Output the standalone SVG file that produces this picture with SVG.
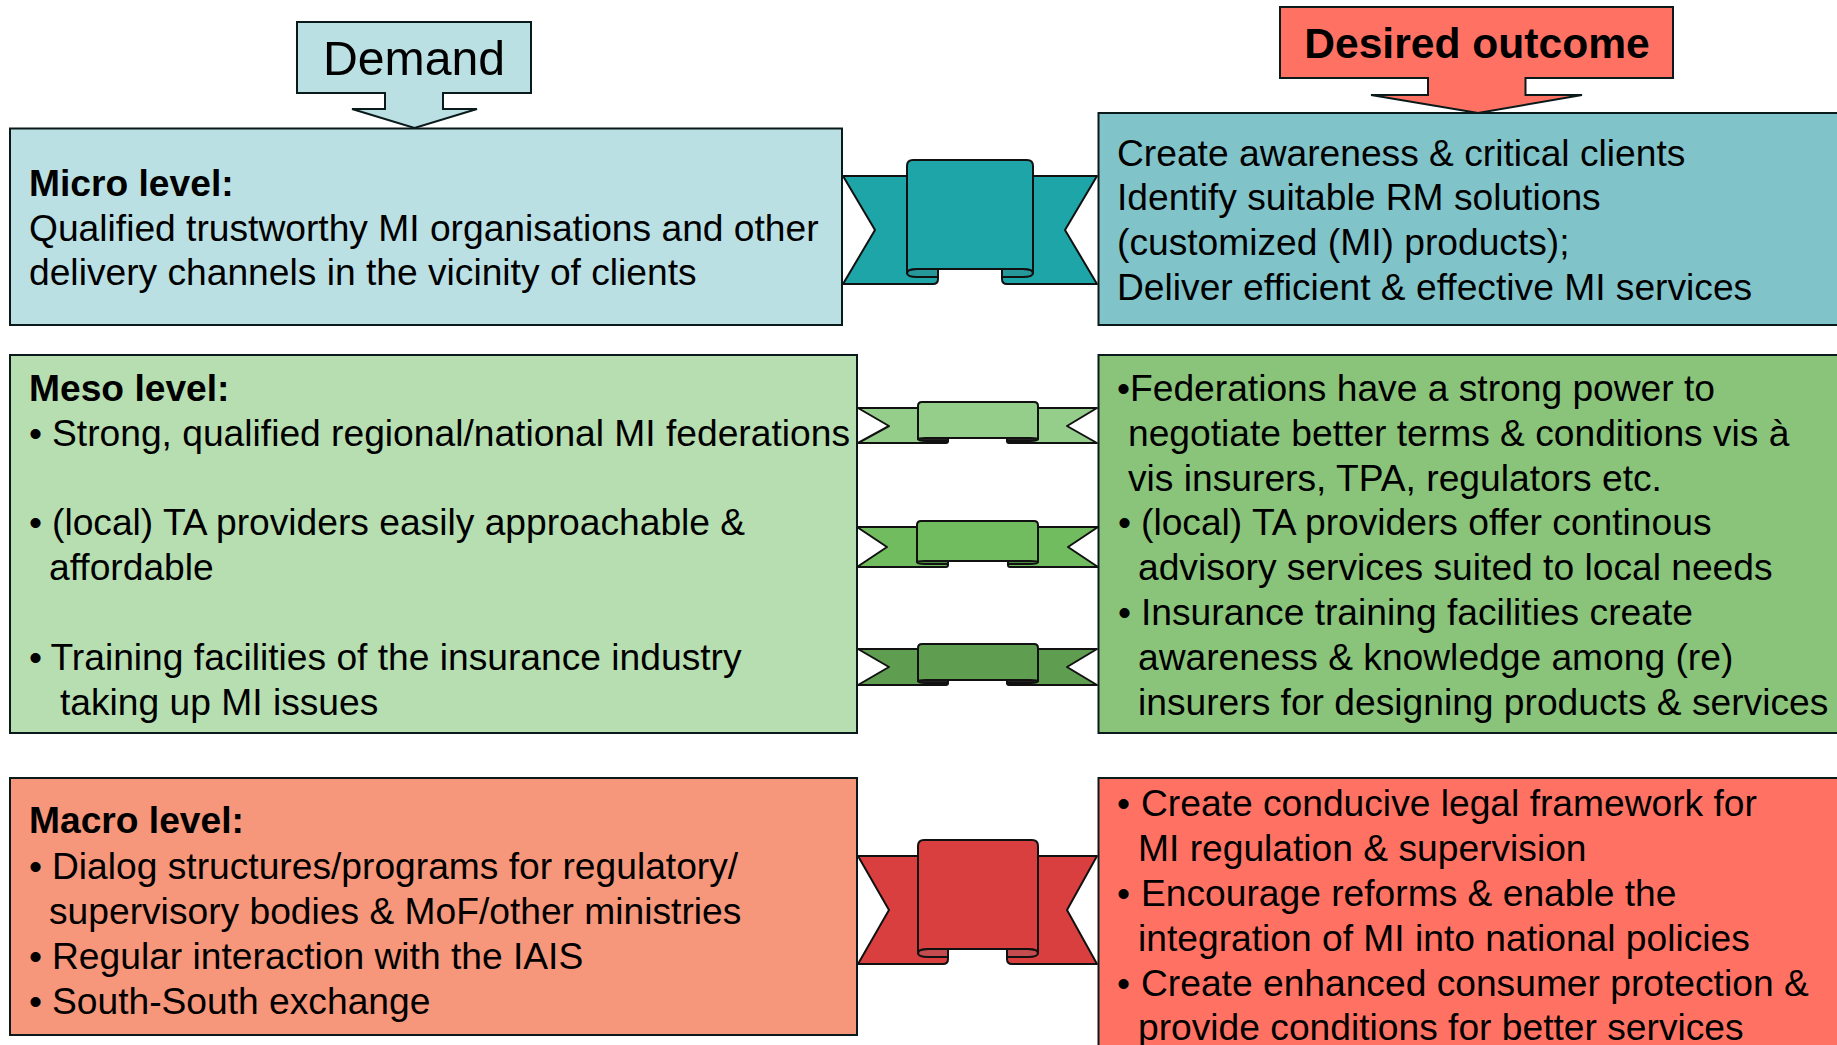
<svg xmlns="http://www.w3.org/2000/svg" width="1837" height="1045" viewBox="0 0 1837 1045">
<style>
.b{stroke:#0a1a1a;stroke-width:2}
.o{stroke:#111;stroke-width:2;stroke-linejoin:round}
text{font-family:"Liberation Sans",Arial,sans-serif;font-size:37.2px;fill:#000}
.h{font-weight:700}
</style>
<rect width="1837" height="1045" fill="#fff"/>
<g id="connectors">
<g id="ribbon-micro" class="o" fill="#1EA5A7">
<path d="M843 176H907V269H938V279Q938 284 933 284H843L875 230Z"/>
<path d="M1097 176H1033V269H1002V279Q1002 284 1007 284H1097L1065 230Z"/>
<path fill="#26989A" d="M907 273Q907 277 917 277H938V269H917Q907 269 907 273Z"/>
<path fill="#26989A" d="M1033 273Q1033 277 1023 277H1002V269H1023Q1033 269 1033 273Z"/>
<path d="M907 166Q907 160 913 160H1027Q1033 160 1033 166V273Q1033 269 1023 269H917Q907 269 907 273Z"/>
</g>
<g id="ribbon-meso-1" class="o" fill="#94CE8A">
<path d="M858 408H918V438H948V441Q948 443 946 443H858L889 426Z"/>
<path d="M1097 408H1038V438H1007V441Q1007 443 1009 443H1097L1067 426Z"/>
<path fill="#222" d="M918 439Q918 441 926 441H948V438H918Z"/>
<path fill="#222" d="M1038 439Q1038 441 1030 441H1007V438H1038Z"/>
<path d="M918 406Q918 402 922 402H1034Q1038 402 1038 406V439Q1038 438 1030 438H926Q918 438 918 439Z"/>
</g>
<g id="ribbon-meso-2" class="o" fill="#70BC5E">
<path d="M857 527H917V561H948V565Q948 567 946 567H857L887 547Z"/>
<path d="M1098 527H1038V561H1008V565Q1008 567 1010 567H1098L1068 547Z"/>
<path fill="#4E8C42" d="M917 562Q917 564 925 564H948V561H917Z"/>
<path fill="#4E8C42" d="M1038 562Q1038 564 1030 564H1008V561H1038Z"/>
<path d="M917 525Q917 521 921 521H1034Q1038 521 1038 525V562Q1038 561 1030 561H925Q917 561 917 562Z"/>
</g>
<g id="ribbon-meso-3" class="o" fill="#5F9E50">
<path d="M858 649H918V680H948V683Q948 685 946 685H858L889 667Z"/>
<path d="M1097 649H1038V680H1007V683Q1007 685 1009 685H1097L1067 667Z"/>
<path fill="#222" d="M918 681Q918 683 926 683H948V680H918Z"/>
<path fill="#222" d="M1038 681Q1038 683 1030 683H1007V680H1038Z"/>
<path d="M918 648Q918 644 922 644H1034Q1038 644 1038 648V681Q1038 680 1030 680H926Q918 680 918 681Z"/>
</g>
<g id="ribbon-macro" class="o" fill="#DA3F40">
<path d="M858 856H918V949H948V959Q948 964 943 964H858L889 910Z"/>
<path d="M1097 856H1038V949H1007V959Q1007 964 1012 964H1097L1067 910Z"/>
<path fill="#C24C4E" d="M918 953Q918 957 928 957H948V949H928Q918 949 918 953Z"/>
<path fill="#C24C4E" d="M1038 953Q1038 957 1028 957H1007V949H1028Q1038 949 1038 953Z"/>
<path d="M918 846Q918 840 924 840H1032Q1038 840 1038 846V953Q1038 949 1028 949H928Q918 949 918 953Z"/>
</g>
</g>
<g id="demand"><path class="b" fill="#BAE0E4" d="M297 22H531V93H443V109H477L414.500 128L352 109H385V93H297Z"/><text x="414" y="75" text-anchor="middle" style="font-size:48.200px">Demand</text></g>
<g id="desired-outcome"><path class="b" fill="#FF7263" d="M1280 7H1673V78H1525.500V95H1582L1478 113L1371 95H1428V78H1280Z"/><text x="1477" y="58" text-anchor="middle" class="h" style="font-size:42.600px">Desired outcome</text></g>
<g id="micro-demand"><rect class="b" x="10" y="128.500" width="832" height="196.500" fill="#BAE0E4"/>
<text><tspan x="29" y="196" class="h">Micro level:</tspan><tspan x="29" y="241">Qualified trustworthy MI organisations and other</tspan><tspan x="29" y="285">delivery channels in the vicinity of clients</tspan></text></g>
<g id="micro-outcome"><rect class="b" x="1098.500" y="113" width="745" height="212" fill="#80C4CA"/>
<text><tspan x="1117" y="166">Create awareness &amp; critical clients</tspan><tspan x="1117" y="210">Identify suitable RM solutions</tspan><tspan x="1117" y="255">(customized (MI) products);</tspan><tspan x="1117" y="300">Deliver efficient &amp; effective MI services</tspan></text></g>
<g id="meso-demand"><rect class="b" x="10" y="355" width="847" height="378" fill="#B6DEB0"/>
<text><tspan x="29" y="401" class="h">Meso level:</tspan><tspan x="29" y="446">•</tspan><tspan x="52" y="446">Strong, qualified regional/national MI federations</tspan><tspan x="29" y="535">•</tspan><tspan x="52" y="535">(local) TA providers easily approachable &amp;</tspan><tspan x="49" y="580">affordable</tspan><tspan x="29" y="670">•</tspan><tspan x="50.500" y="670">Training facilities of the insurance industry</tspan><tspan x="60" y="715">taking up MI issues</tspan></text></g>
<g id="meso-outcome"><rect class="b" x="1098.500" y="355" width="745" height="378" fill="#8AC47A"/>
<text><tspan x="1117" y="401">•Federations have a strong power to</tspan><tspan x="1128" y="446">negotiate better terms &amp; conditions vis à</tspan><tspan x="1128" y="491">vis insurers, TPA, regulators etc.</tspan><tspan x="1118" y="535">•</tspan><tspan x="1141" y="535">(local) TA providers offer continous</tspan><tspan x="1138" y="580">advisory services suited to local needs</tspan><tspan x="1118" y="625">•</tspan><tspan x="1141" y="625">Insurance training facilities create</tspan><tspan x="1138" y="670">awareness &amp; knowledge among (re)</tspan><tspan x="1138" y="715">insurers for designing products &amp; services</tspan></text></g>
<g id="macro-demand"><rect class="b" x="10" y="778" width="847" height="257" fill="#F6967A"/>
<text><tspan x="29" y="833" class="h">Macro level:</tspan><tspan x="29" y="879">•</tspan><tspan x="52" y="879">Dialog structures/programs for regulatory/</tspan><tspan x="49" y="924">supervisory bodies &amp; MoF/other ministries</tspan><tspan x="29" y="969">•</tspan><tspan x="52" y="969">Regular interaction with the IAIS</tspan><tspan x="29" y="1014">•</tspan><tspan x="52" y="1014">South-South exchange</tspan></text></g>
<g id="macro-outcome"><rect class="b" x="1098.500" y="778" width="745" height="280" fill="#FF7263"/>
<text><tspan x="1117" y="816">•</tspan><tspan x="1141" y="816">Create conducive legal framework for</tspan><tspan x="1138" y="861">MI regulation &amp; supervision</tspan><tspan x="1117" y="906">•</tspan><tspan x="1141" y="906">Encourage reforms &amp; enable the</tspan><tspan x="1138" y="951">integration of MI into national policies</tspan><tspan x="1117" y="996">•</tspan><tspan x="1141" y="996">Create enhanced consumer protection &amp;</tspan><tspan x="1138" y="1040">provide conditions for better services</tspan></text></g>
</svg>
